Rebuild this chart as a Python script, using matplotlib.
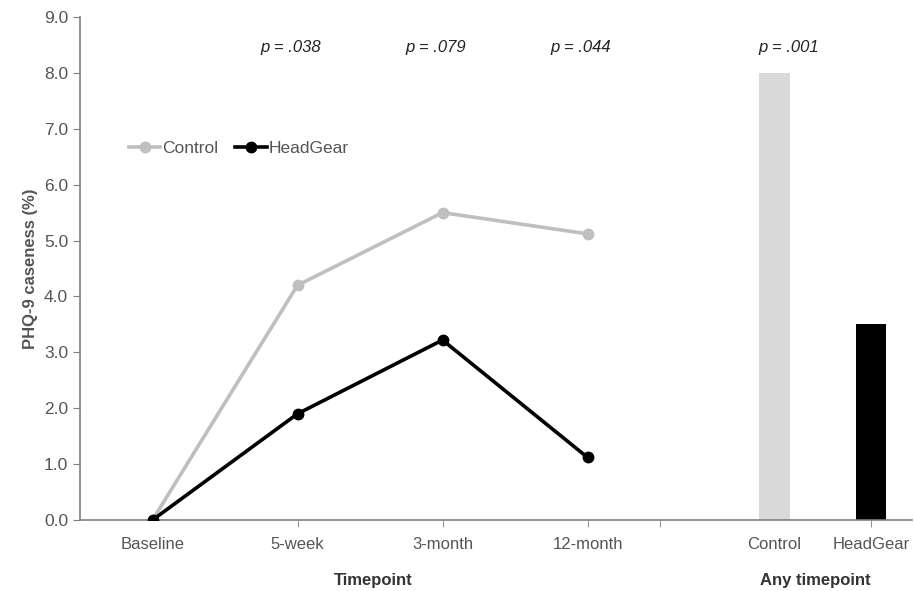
import numpy as np
import matplotlib.pyplot as plt

plt.rcParams['font.family'] = ['Liberation Sans', 'DejaVu Sans']

# line part
timepoints = ['Baseline', '5-week', '3-month', '12-month']
control = [0.0, 4.2, 5.5, 5.12]
headgear = [0.0, 1.9, 3.22, 1.12]
p_time = ['p = .038', 'p = .079', 'p = .044']

# bar part
groups = ['Control', 'HeadGear']
any_time = [8.0, 3.5]
p_any = 'p = .001'

grey_line = '#bfbfbf'
grey_bar = '#d9d9d9'
axis_col = '#7f7f7f'
text_col = '#555555'

fig = plt.figure(figsize=(9.14, 5.91), dpi=100)
ax = fig.add_axes([80 / 914, 71 / 591, 832 / 914, 503 / 591])

x_line = np.arange(len(timepoints)) + 0.5
x_bar = np.array([4.79, 5.455])

ax.plot(x_line, control, color=grey_line, lw=2.6, marker='o', ms=7.5, label='Control', zorder=3)
ax.plot(x_line, headgear, color='black', lw=2.6, marker='o', ms=7.5, label='HeadGear', zorder=4)
ax.bar(x_bar, any_time, width=0.21, color=[grey_bar, 'black'])

for xi, t in zip(x_line[1:], p_time):
    ax.text(xi - 0.05, 8.46, t, ha='center', va='center', style='italic', fontsize=12, color='#222222')
ax.text(x_bar[0] + 0.1, 8.46, p_any, ha='center', va='center', style='italic', fontsize=12, color='#222222')

ax.set_xlim(0, 832 / 145)
ax.set_ylim(0, 9)
ax.set_yticks(np.arange(0, 9.5, 1.0))
ax.set_yticklabels([f'{v:.1f}' for v in np.arange(0, 9.5, 1.0)])

ax.xaxis.remove_overlapping_locs = False
ax.set_xticks(list(x_line) + list(x_bar))
ax.set_xticklabels(timepoints + groups, fontsize=12, color=text_col)
ax.tick_params(axis='x', which='major', length=0, pad=12)
ax.set_xticks([1.5, 2.5, 3.5, 4.0, x_bar[1]], minor=True)
ax.tick_params(axis='x', which='minor', length=5, color=axis_col, direction='out')
ax.tick_params(axis='y', length=5, color=axis_col, labelsize=12.5, labelcolor=text_col)

for s in ['top', 'right']:
    ax.spines[s].set_visible(False)
for s in ['left', 'bottom']:
    ax.spines[s].set_color(axis_col)
    ax.spines[s].set_linewidth(1.2)
ax.spines['bottom'].set_zorder(1)

ax.set_ylabel('PHQ-9 caseness (%)', fontsize=12, fontweight='bold', color=text_col, labelpad=4)

fig.text(373 / 914, 1 - 580 / 591, 'Timepoint', ha='center', va='center',
         fontsize=12, fontweight='bold', color='#333333')
fig.text(815 / 914, 1 - 580 / 591, 'Any timepoint', ha='center', va='center',
         fontsize=12, fontweight='bold', color='#333333')

leg = ax.legend(loc='upper left', bbox_to_anchor=(0.04, 0.785), ncol=2, frameon=False,
                fontsize=12.5, handlelength=1.8, handletextpad=0.1, columnspacing=1.0)
for t in leg.get_texts():
    t.set_color(text_col)

fig.savefig('out.png', dpi=100)
